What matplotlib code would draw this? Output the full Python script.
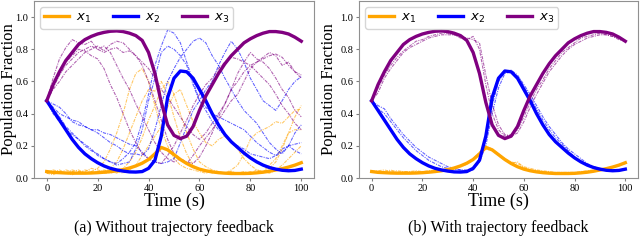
import numpy as np
import matplotlib

matplotlib.use("Agg")
import matplotlib.pyplot as plt

plt.rcParams["font.family"] = "serif"
plt.rcParams["font.serif"] = ["Liberation Serif", "DejaVu Serif"]
plt.rcParams["mathtext.fontset"] = "dejavusans"

# 時間軸 (2.5 s 間隔)
time = np.linspace(0, 100, 41)

# 平均場モデル (両パネル共通)
x1_mean = [.04, .035, .033, .031, .03, .03, .03, .031, .033, .036,
           .04, .045, .052, .062, .075, .092, .115, .15, .19, .175,
           .145, .115, .09, .07, .055, .045, .038, .033, .03, .028,
           .028, .028, .029, .032, .036, .042, .05, .058, .068, .08, .095]
x2_mean = [.48, .42, .36, .30, .24, .19, .15, .12, .095, .075,
           .06, .05, .043, .038, .037, .04, .06, .11, .26, .50,
           .62, .665, .66, .62, .55, .48, .40, .33, .27, .225,
           .19, .155, .125, .10, .08, .065, .055, .048, .045, .047, .055]
x3_mean = [.48, .58, .66, .73, .78, .83, .86, .88, .895, .905,
           .912, .914, .91, .90, .885, .855, .78, .65, .47, .33,
           .265, .245, .26, .32, .42, .51, .58, .65, .71, .76,
           .80, .84, .865, .885, .90, .91, .91, .905, .895, .875, .85]

# (a) フィードバックなしの確率的軌跡
x1_runs_a = [
    [.03, .04, .03, .05, .04, .03, .05, .04, .06, .10, .18, .28, .40, .55, .65, .68, .60, .45, .30, .20,
     .12, .08, .06, .05, .04, .03, .04, .03, .03, .04, .03, .04, .03, .05, .04, .08, .12, .20, .28, .38, .45],
    [.03, .05, .04, .03, .05, .04, .04, .06, .05, .04, .06, .10, .18, .28, .38, .48, .55, .54, .60, .52,
     .38, .25, .15, .08, .05, .04, .03, .04, .03, .05, .08, .15, .24, .28, .30, .32, .35, .34, .38, .42, .43],
    [.04, .03, .05, .03, .04, .05, .03, .04, .03, .05, .04, .03, .06, .10, .16, .25, .36, .45, .55, .60,
     .52, .40, .28, .18, .10, .07, .05, .04, .03, .04, .03, .03, .04, .03, .04, .03, .05, .08, .12, .16, .20],
    [.03, .02, .04, .03, .02, .04, .03, .03, .04, .03, .03, .04, .03, .05, .08, .14, .20, .26, .32, .44,
     .52, .55, .45, .35, .28, .22, .20, .24, .26, .22, .18, .12, .08, .05, .04, .06, .10, .18, .28, .30, .30],
]
x2_runs_a = [
    [.48, .40, .35, .30, .27, .24, .20, .17, .15, .12, .10, .09, .12, .16, .22, .35, .52, .70, .82, .92,
     .90, .84, .72, .60, .48, .42, .35, .30, .27, .22, .20, .18, .15, .14, .13, .12, .14, .18, .20, .21, .22],
    [.48, .44, .40, .38, .36, .35, .32, .30, .28, .25, .22, .20, .17, .15, .15, .14, .18, .30, .45, .60,
     .68, .75, .80, .85, .87, .84, .76, .70, .62, .55, .48, .42, .38, .34, .28, .22, .18, .15, .20, .28, .33],
    [.48, .43, .38, .32, .28, .24, .21, .18, .14, .12, .10, .08, .09, .10, .18, .30, .48, .62, .78, .82,
     .80, .76, .70, .58, .48, .44, .40, .38, .36, .34, .32, .30, .26, .22, .19, .16, .14, .16, .20, .17, .15],
    [.48, .46, .44, .40, .35, .33, .32, .30, .30, .28, .27, .25, .23, .21, .20, .16, .12, .10, .09, .10,
     .12, .22, .32, .42, .48, .55, .60, .70, .78, .85, .80, .72, .62, .55, .48, .45, .42, .48, .55, .60, .63],
]
x3_runs_a = [
    [.48, .62, .74, .81, .86, .84, .83, .85, .80, .82, .78, .70, .62, .55, .46, .38, .30, .22, .16, .12,
     .10, .12, .09, .14, .20, .25, .30, .36, .42, .48, .52, .60, .68, .72, .75, .78, .76, .70, .72, .66, .62],
    [.48, .55, .60, .66, .70, .74, .78, .80, .82, .79, .83, .85, .84, .80, .76, .70, .60, .48, .36, .24,
     .15, .12, .10, .09, .13, .20, .28, .38, .46, .55, .65, .72, .78, .74, .72, .68, .62, .55, .50, .42, .38],
    [.48, .58, .66, .72, .76, .80, .79, .76, .74, .68, .58, .50, .40, .30, .22, .15, .12, .10, .09, .14,
     .20, .28, .36, .45, .52, .58, .62, .68, .72, .75, .74, .72, .70, .66, .62, .58, .52, .45, .40, .34, .30],
    [.48, .56, .64, .70, .74, .78, .80, .82, .80, .78, .80, .81, .78, .79, .76, .72, .68, .62, .55, .50,
     .44, .38, .32, .27, .24, .28, .34, .40, .46, .55, .60, .66, .70, .72, .74, .76, .77, .75, .70, .66, .64],
]

# (b) フィードバックありの確率的軌跡
x1_runs_b = [
    [.04, .045, .05, .04, .045, .04, .04, .045, .04, .045, .05, .05, .055, .06, .075, .09, .12, .16, .20, .18,
     .15, .12, .10, .09, .07, .06, .05, .045, .04, .035, .035, .035, .035, .04, .045, .05, .055, .06, .07, .08, .095],
    [.035, .04, .035, .05, .035, .04, .035, .04, .035, .04, .04, .045, .05, .055, .07, .085, .11, .15, .18, .17,
     .14, .11, .09, .10, .065, .05, .045, .04, .035, .03, .03, .03, .03, .035, .04, .045, .05, .06, .065, .075, .09],
]
x2_runs_b = [
    [.48, .43, .40, .35, .30, .25, .21, .17, .14, .11, .09, .07, .06, .055, .05, .05, .06, .12, .25, .45,
     .60, .66, .67, .64, .58, .52, .45, .38, .32, .27, .22, .18, .15, .12, .09, .07, .06, .055, .05, .05, .05],
    [.48, .45, .43, .37, .32, .27, .23, .19, .16, .13, .11, .09, .07, .06, .05, .04, .05, .10, .20, .40,
     .56, .65, .66, .63, .57, .50, .43, .36, .30, .25, .21, .17, .13, .10, .08, .065, .055, .05, .045, .05, .05],
]
x3_runs_b = [
    [.48, .53, .62, .68, .73, .78, .81, .83, .85, .87, .88, .89, .89, .89, .88, .87, .86, .84, .64, .46,
     .33, .27, .26, .28, .35, .44, .52, .59, .66, .71, .76, .80, .83, .85, .87, .88, .89, .89, .88, .87, .85],
    [.48, .56, .64, .70, .75, .79, .82, .85, .86, .88, .89, .90, .90, .89, .87, .86, .88, .80, .58, .40,
     .30, .26, .27, .30, .38, .47, .55, .61, .68, .73, .78, .81, .84, .87, .88, .89, .90, .89, .88, .86, .85],
]

colors = ["#FFA500", "#0000FF", "#800080"]
labels = ["$x_1$", "$x_2$", "$x_3$"]
captions = ["(a) Without trajectory feedback", "(b) With trajectory feedback"]

fig = plt.figure(figsize=(6.4, 2.41), dpi=100)
ax_a = fig.add_axes([34 / 640, 1 - 178 / 241, 280 / 640, 177 / 241])
ax_b = fig.add_axes([359 / 640, 1 - 178 / 241, 279 / 640, 177 / 241])

panels = [
    (ax_a, [x1_runs_a, x2_runs_a, x3_runs_a], -0.0614),
    (ax_b, [x1_runs_b, x2_runs_b, x3_runs_b], -0.0796),
]
means = [x1_mean, x2_mean, x3_mean]

for ax, runs, ylabel_x in panels:
    # 確率的軌跡 (細い破線)
    for species_runs, color in zip(runs, colors):
        for run in species_runs:
            ax.plot(time, run, color=color, linewidth=0.8, alpha=0.6,
                    linestyle=(0, (3, 1, 1, 1)))
    # 平均場
    for mean, color, label in zip(means, colors, labels):
        ax.plot(time, mean, color=color, linewidth=2.4, label=label)

    ax.set_xlim(-5, 105)
    ax.set_ylim(0, 1.1)
    ax.set_xticks([0, 20, 40, 60, 80, 100])
    ax.set_yticks([0.0, 0.2, 0.4, 0.6, 0.8, 1.0])
    ax.tick_params(labelsize=7.5, color="#808080", length=2.5, pad=1.5)
    for spine in ax.spines.values():
        spine.set_color("#909090")
    ax.set_xlabel("Time (s)", fontsize=13, labelpad=0)
    ax.set_ylabel("Population Fraction", fontsize=12)
    ax.yaxis.set_label_coords(ylabel_x, 0.5)
    ax.legend(loc="upper left", ncol=3, handlelength=1.9,
              handletextpad=0.5, columnspacing=1.7, borderpad=0.3,
              borderaxespad=0.45, prop={"family": "DejaVu Sans", "size": 9.5})

for ax, caption in zip([ax_a, ax_b], captions):
    pos = ax.get_position()
    fig.text((pos.x0 + pos.x1) / 2, 1 - 228 / 241, caption,
             ha="center", va="center", fontsize=11.5)

plt.savefig("out.png", dpi=100)
plt.close()
